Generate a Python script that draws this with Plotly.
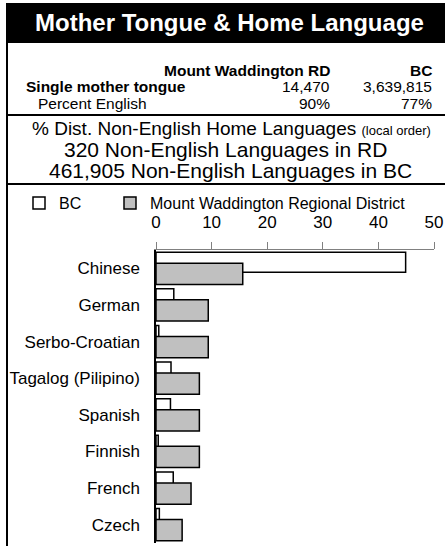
import plotly.graph_objects as go

categories = ["Chinese", "German", "Serbo-Croatian", "Tagalog (Pilipino)",
              "Spanish", "Finnish", "French", "Czech"]
rd_values = [15.6, 9.4, 9.4, 7.8, 7.8, 7.8, 6.3, 4.7]
bc_values = [44.9, 3.2, 0.5, 2.7, 2.6, 0.4, 3.1, 0.6]
x_ticks = [0, 10, 20, 30, 40, 50]

W, H = 445, 546
XL, XR, YT, YB = 156, 434, 250, 543
FONT = "Liberation Sans, Arial, sans-serif"


def px(x):
    return (x - XL) / (XR - XL)


def py(y):
    return (YB - y) / (YB - YT)


fig = go.Figure()
fig.add_trace(go.Bar(
    y=categories, x=bc_values, orientation="h", name="BC",
    offset=-0.44, width=0.55, legend="legend",
    marker=dict(color="white", line=dict(color="black", width=1.5)),
))
fig.add_trace(go.Bar(
    y=categories, x=rd_values, orientation="h",
    name="Mount Waddington Regional District",
    offset=-0.14, width=0.58, legend="legend2",
    marker=dict(color="#C0C0C0", line=dict(color="black", width=1.5)),
))

shapes = [
    dict(type="rect", xref="paper", yref="paper", x0=px(6), x1=px(446),
         y0=py(43), y1=py(3), fillcolor="black", line=dict(width=0), layer="below"),
    dict(type="line", xref="paper", yref="paper", x0=px(7), x1=px(7),
         y0=py(43), y1=py(547), line=dict(color="black", width=2)),
    dict(type="line", xref="paper", yref="paper", x0=px(6), x1=px(446),
         y0=py(115), y1=py(115), line=dict(color="black", width=2)),
    dict(type="line", xref="paper", yref="paper", x0=px(6), x1=px(446),
         y0=py(184), y1=py(184), line=dict(color="black", width=2)),
]


def ann(text, x, y, xanchor="center", size=15.5, color="black"):
    return dict(text=text, x=px(x), y=py(y), xref="paper", yref="paper",
                xanchor=xanchor, yanchor="middle", showarrow=False, borderpad=0,
                font=dict(family=FONT, size=size, color=color))


annotations = [
    ann("<b>Mother Tongue &amp; Home Language</b>", 229, 22, size=24, color="white"),
    ann("<b>Mount Waddington RD</b>", 331, 70, "right"),
    ann("<b>BC</b>", 433, 70, "right"),
    ann("<b>Single mother tongue</b>", 25, 87, "left"),
    ann("14,470", 331, 87, "right"),
    ann("3,639,815", 433, 87, "right"),
    ann("Percent English", 37, 104, "left"),
    ann("90%", 331, 104, "right"),
    ann("77%", 433, 104, "right"),
    ann("% Dist. Non-English Home Languages <span style='font-size:13px'>(local order)</span>",
        231, 128, size=19),
    ann("320 Non-English Languages in RD", 225, 149, size=21),
    ann("461,905 Non-English Languages in BC", 230, 170, size=21),
]

legend_common = dict(orientation="h", xanchor="left", yanchor="middle",
                     font=dict(family=FONT, size=16), itemwidth=30,
                     bgcolor="rgba(0,0,0,0)", borderwidth=0)

fig.update_layout(
    width=W, height=H,
    margin=dict(l=XL, r=W - XR, t=YT, b=H - YB, autoexpand=False),
    paper_bgcolor="white", plot_bgcolor="white",
    barmode="overlay",
    font=dict(family=FONT, size=17, color="black"),
    showlegend=True,
    legend=dict(x=px(19), y=py(203), **legend_common),
    legend2=dict(x=px(110), y=py(203), **legend_common),
    shapes=shapes,
    annotations=annotations,
    xaxis=dict(side="top", range=[0, 50], tickvals=x_ticks, ticks="outside",
               ticklen=7, tickcolor="#808080", showline=True, linecolor="#808080",
               linewidth=1, showgrid=False, zeroline=False, ticklabelstandoff=7,
               tickfont=dict(size=17), fixedrange=True),
    yaxis=dict(categoryorder="array", categoryarray=categories,
               range=[len(categories) - 0.5, -0.5], showline=True, linecolor="black",
               linewidth=1.5, ticks="", showgrid=False, zeroline=False,
               ticklabelstandoff=11, tickfont=dict(size=17), fixedrange=True),
)

fig.write_html("out.html", config={"displayModeBar": False},
               post_script="document.body.style.margin='0';")
